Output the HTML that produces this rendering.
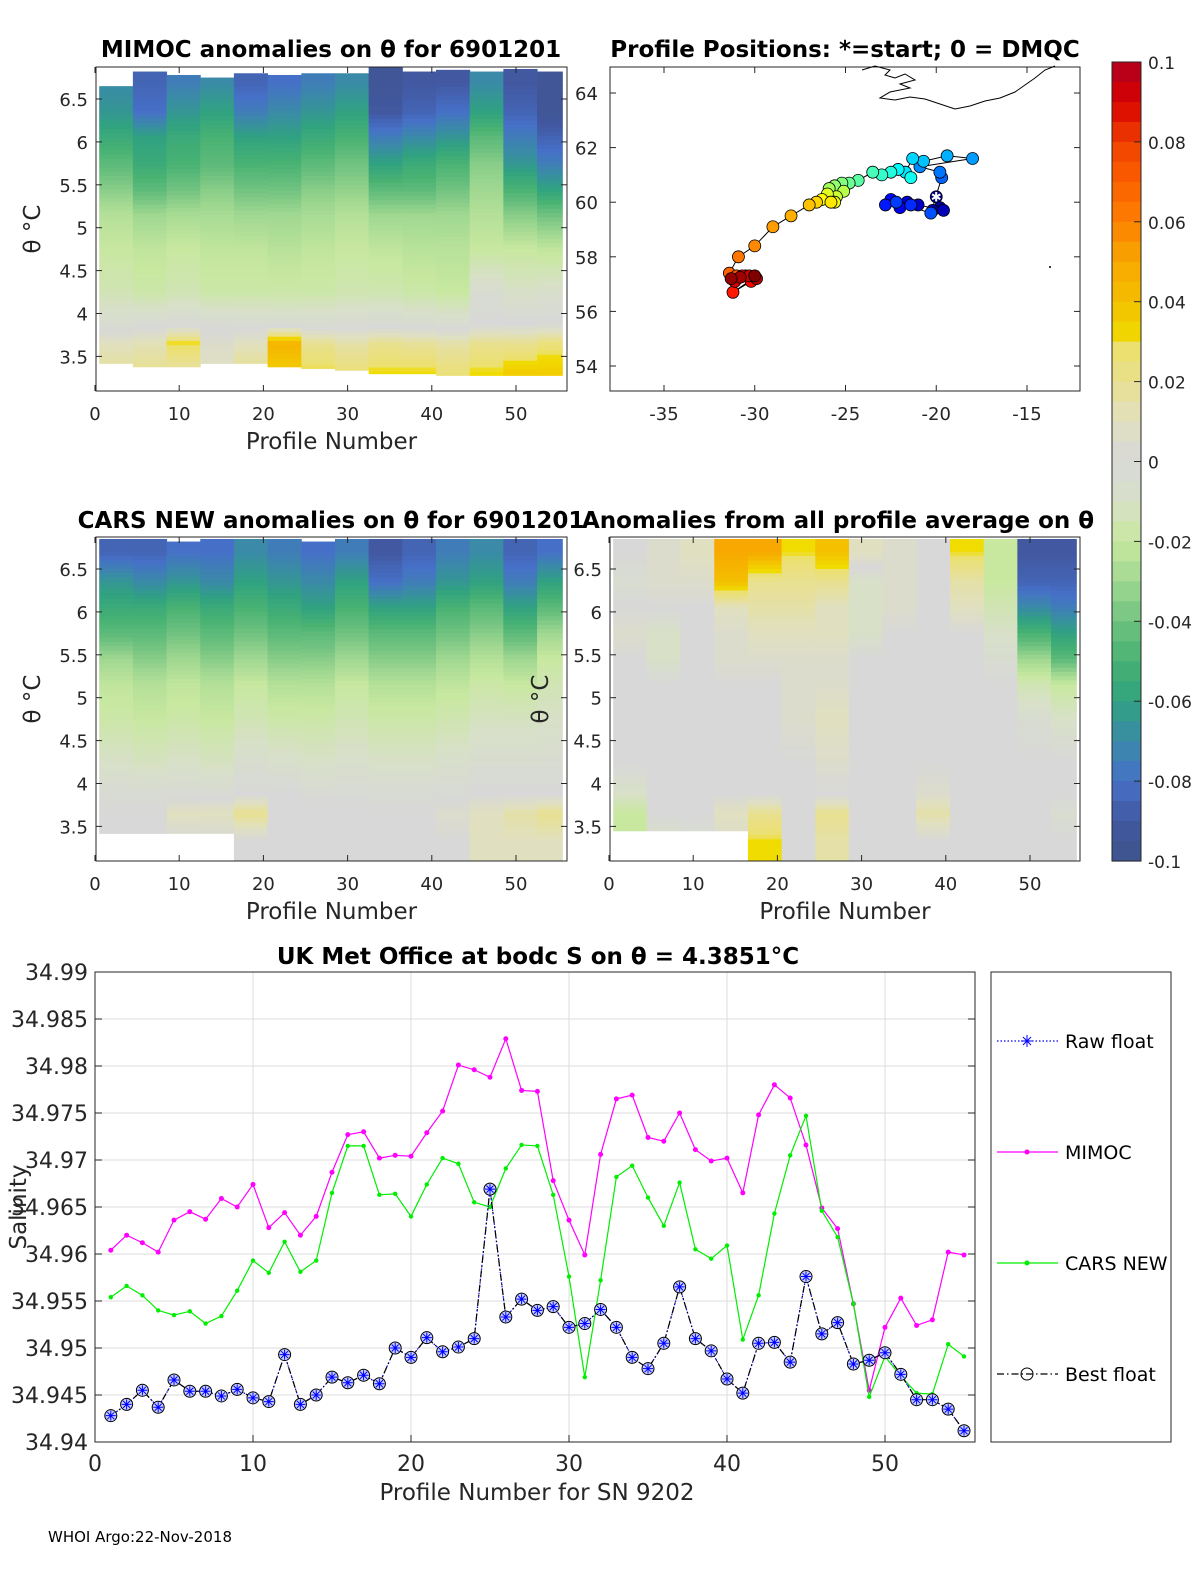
<!DOCTYPE html>
<html><head><meta charset="utf-8"><style>
html,body{margin:0;padding:0;background:#fff;}
svg{display:block;font-family:"DejaVu Sans","Liberation Sans",sans-serif;}
.t{font-size:18px;fill:#262626;}
.tb{font-size:22px;fill:#262626;}
.tl{font-size:19px;fill:#000;}
.ti{font-size:23px;font-weight:bold;fill:#000;}
.lab{font-size:23px;fill:#262626;}
</style></head><body>
<svg id="fig" width="1200" height="1575" viewBox="0 0 1200 1575" xmlns="http://www.w3.org/2000/svg"></svg>
<script>
// ---------- data ----------
const profiles = Array.from({length:55},(_,i)=>i+1);
const mimoc = [34.9604,34.9620,34.9612,34.9602,34.9636,34.9645,34.9637,34.9659,34.9650,34.9674,34.9628,34.9644,34.9620,34.9640,34.9687,34.9727,34.9730,34.9702,34.9705,34.9704,34.9729,34.9752,34.9801,34.9796,34.9788,34.9829,34.9774,34.9773,34.9678,34.9636,34.9599,34.9706,34.9765,34.9769,34.9724,34.9720,34.9750,34.9711,34.9699,34.9702,34.9665,34.9748,34.9780,34.9766,34.9716,34.9649,34.9627,34.9547,34.9455,34.9522,34.9553,34.9524,34.9530,34.9602,34.9599];
const carsNew = [34.9554,34.9566,34.9556,34.9540,34.9535,34.9539,34.9526,34.9534,34.9561,34.9593,34.9580,34.9613,34.9581,34.9593,34.9665,34.9715,34.9715,34.9663,34.9664,34.9640,34.9674,34.9702,34.9696,34.9655,34.9650,34.9691,34.9716,34.9715,34.9663,34.9576,34.9469,34.9572,34.9682,34.9694,34.9660,34.9630,34.9676,34.9605,34.9595,34.9609,34.9509,34.9556,34.9643,34.9705,34.9747,34.9646,34.9618,34.9547,34.9448,34.9491,34.9470,34.9452,34.9451,34.9504,34.9491];
const floatSal = [34.9428,34.9440,34.9455,34.9437,34.9466,34.9454,34.9454,34.9449,34.9456,34.9447,34.9443,34.9493,34.9440,34.9450,34.9469,34.9463,34.9471,34.9462,34.9500,34.9490,34.9511,34.9496,34.9501,34.9510,34.9669,34.9533,34.9552,34.9540,34.9544,34.9522,34.9526,34.9541,34.9522,34.9490,34.9478,34.9505,34.9565,34.9510,34.9497,34.9467,34.9452,34.9505,34.9506,34.9485,34.9576,34.9515,34.9527,34.9483,34.9487,34.9495,34.9472,34.9445,34.9445,34.9435,34.9412];
const salTicks = [34.94,34.945,34.95,34.955,34.96,34.965,34.97,34.975,34.98,34.985,34.99];
const salTickLabels = ["34.94","34.945","34.95","34.955","34.96","34.965","34.97","34.975","34.98","34.985","34.99"];
const profTicks = [0,10,20,30,40,50];
const thetaTicks = [3.5,4,4.5,5,5.5,6,6.5];
const thetaTickLabels = ["3.5","4","4.5","5","5.5","6","6.5"];
const bandEdges = [6.9,6.5,6.2,5.9,5.6,5.3,5.0,4.5,4.0,3.75,3.55,3.1];
const mimocField = [
[-0.07,-0.065,-0.055,-0.045,-0.035,-0.025,-0.02,-0.015,-0.005,0.01,0.018],
[-0.085,-0.08,-0.06,-0.055,-0.045,-0.03,-0.022,-0.018,-0.003,0.012,0.02],
[-0.075,-0.065,-0.055,-0.05,-0.04,-0.028,-0.02,-0.015,-0.002,0.03,0.015],
[-0.07,-0.06,-0.05,-0.045,-0.035,-0.028,-0.022,-0.018,-0.003,0.005,0.01],
[-0.085,-0.075,-0.06,-0.05,-0.04,-0.03,-0.022,-0.018,-0.004,0.01,0.02],
[-0.08,-0.07,-0.06,-0.05,-0.04,-0.03,-0.024,-0.018,-0.004,0.045,0.035],
[-0.075,-0.065,-0.055,-0.045,-0.035,-0.028,-0.022,-0.018,-0.004,0.02,0.03],
[-0.07,-0.06,-0.05,-0.04,-0.033,-0.025,-0.02,-0.016,-0.003,0.015,0.025],
[-0.095,-0.09,-0.075,-0.06,-0.045,-0.03,-0.022,-0.016,-0.003,0.02,0.03],
[-0.09,-0.085,-0.07,-0.055,-0.045,-0.03,-0.024,-0.018,-0.004,0.018,0.03],
[-0.09,-0.08,-0.065,-0.05,-0.04,-0.03,-0.024,-0.02,-0.005,0.015,0.025],
[-0.07,-0.06,-0.045,-0.035,-0.03,-0.025,-0.02,-0.005,0.0,0.02,0.03],
[-0.09,-0.085,-0.075,-0.065,-0.05,-0.035,-0.02,-0.01,0.0,0.02,0.035],
[-0.095,-0.095,-0.085,-0.075,-0.06,-0.04,-0.022,-0.008,0.0,0.025,0.035]];
const mimocTop = [6.65,6.82,6.78,6.75,6.8,6.78,6.8,6.8,6.87,6.82,6.84,6.82,6.85,6.82];
const mimocBot = [3.42,3.38,3.38,3.42,3.42,3.38,3.36,3.34,3.3,3.3,3.28,3.28,3.28,3.28];
const carsField = [
[-0.085,-0.065,-0.055,-0.045,-0.03,-0.022,-0.018,-0.01,-0.003,0.0,0.0],
[-0.085,-0.07,-0.055,-0.045,-0.035,-0.025,-0.02,-0.012,-0.003,0.0,0.0],
[-0.08,-0.065,-0.05,-0.04,-0.03,-0.022,-0.018,-0.01,-0.003,0.01,0.0],
[-0.08,-0.07,-0.055,-0.045,-0.035,-0.025,-0.02,-0.012,-0.003,0.01,0.0],
[-0.07,-0.06,-0.05,-0.04,-0.03,-0.02,-0.015,-0.006,0.0,0.02,0.0],
[-0.075,-0.065,-0.055,-0.045,-0.035,-0.025,-0.018,-0.008,0.0,0.0,0.0],
[-0.08,-0.07,-0.06,-0.045,-0.035,-0.025,-0.018,-0.01,-0.002,0.0,0.0],
[-0.075,-0.06,-0.05,-0.04,-0.03,-0.02,-0.015,-0.008,-0.002,0.0,0.0],
[-0.09,-0.08,-0.06,-0.045,-0.035,-0.025,-0.018,-0.01,-0.003,0.0,0.0],
[-0.085,-0.075,-0.06,-0.045,-0.035,-0.025,-0.018,-0.01,-0.003,0.0,0.0],
[-0.075,-0.065,-0.05,-0.04,-0.03,-0.022,-0.016,-0.008,-0.002,0.005,0.0],
[-0.07,-0.06,-0.045,-0.035,-0.025,-0.018,-0.012,-0.005,0.0,0.01,0.01],
[-0.085,-0.075,-0.06,-0.045,-0.03,-0.02,-0.012,-0.005,0.0,0.015,0.01],
[-0.08,-0.06,-0.045,-0.03,-0.02,-0.015,-0.01,-0.005,0.0,0.02,0.01]];
const carsTop = [6.85,6.85,6.82,6.85,6.85,6.85,6.82,6.85,6.85,6.85,6.85,6.85,6.85,6.85];
const carsBot = [3.42,3.42,3.42,3.42,3.1,3.1,3.1,3.1,3.1,3.1,3.1,3.1,3.1,3.1];
const avgField = [
[0.0,-0.005,0.0,0.005,0.0,0.0,0.0,0.0,-0.01,-0.02,-0.02],
[0.005,0.005,0.0,-0.01,-0.01,0.0,0.0,0.0,0.0,0.0,-0.01],
[0.01,0.005,0.0,0.0,0.0,0.0,0.0,0.0,0.0,0.0,-0.005],
[0.05,0.04,0.01,0.005,0.005,0.0,0.0,0.0,0.0,0.01,0.005],
[0.05,0.02,0.015,0.01,0.005,0.0,0.0,0.0,0.0,0.02,0.03],
[0.03,0.02,0.015,0.01,0.005,0.005,0.005,0.0,0.0,0.0,0.0],
[0.04,0.02,0.01,0.01,0.005,0.005,0.01,0.005,0.0,0.02,0.015],
[0.01,-0.01,-0.01,-0.01,0.0,0.0,0.0,0.0,0.0,0.0,0.0],
[0.005,0.005,0.005,0.0,0.0,0.0,0.0,0.0,0.0,0.0,0.0],
[0.0,0.0,0.0,0.0,0.0,0.0,0.0,0.0,0.005,0.015,0.0],
[0.03,0.015,0.01,0.0,0.0,0.0,0.0,0.0,0.0,0.0,0.0],
[-0.02,-0.02,-0.015,-0.01,-0.005,0.0,0.0,0.0,0.0,0.0,0.0],
[-0.09,-0.085,-0.07,-0.05,-0.03,-0.015,-0.005,0.0,0.0,0.0,0.0],
[-0.09,-0.085,-0.075,-0.06,-0.045,-0.02,-0.01,0.0,0.0,-0.005,0.0]];
const avgTop = [6.85,6.85,6.85,6.85,6.85,6.85,6.85,6.85,6.85,6.85,6.85,6.85,6.85,6.85];
const avgBot = [3.45,3.45,3.45,3.45,3.1,3.1,3.1,3.1,3.1,3.1,3.1,3.1,3.1,3.1];
const lons = [-20.0,-19.8,-20.2,-19.6,-21.0,-21.6,-22.0,-22.5,-22.8,-21.4,-22.2,-20.3,-19.7,-19.8,-20.9,-18.0,-19.4,-20.7,-21.3,-21.7,-22.1,-21.4,-22.5,-23.0,-23.5,-24.3,-24.8,-25.2,-25.6,-25.9,-25.1,-25.5,-26.0,-25.6,-26.3,-25.8,-26.6,-27.0,-28.0,-29.0,-30.0,-30.9,-31.4,-31.0,-30.5,-30.1,-31.2,-30.2,-30.7,-31.1,-30.3,-29.9,-30.8,-31.3,-30.0];
const lats = [60.2,59.8,59.7,59.7,59.9,60.0,59.8,60.1,59.9,59.9,60.0,59.6,60.9,61.1,61.3,61.6,61.7,61.5,61.6,61.1,61.2,60.9,61.1,61.0,61.1,60.8,60.7,60.7,60.6,60.5,60.4,60.2,60.3,60.0,60.1,60.0,60.0,59.9,59.5,59.1,58.4,58.0,57.4,57.3,57.3,57.2,56.7,57.1,57.3,57.1,57.3,57.2,57.25,57.2,57.3];
const lonTicks = [-35,-30,-25,-20,-15];
const latTicks = [54,56,58,60,62,64];
const cbTicks = [-0.1,-0.08,-0.06,-0.04,-0.02,0,0.02,0.04,0.06,0.08,0.1];
const cbTickLabels = ["-0.1","-0.08","-0.06","-0.04","-0.02","0","0.02","0.04","0.06","0.08","0.1"];

// ---------- helpers ----------
const NS="http://www.w3.org/2000/svg";
const svg=document.getElementById('fig');
function mk(tag,attrs,parent){const e=document.createElementNS(NS,tag);for(const k in attrs)e.setAttribute(k,attrs[k]);(parent||svg).appendChild(e);return e;}
function txt(s,x,y,cls,anchor,parent,extra){const e=mk('text',Object.assign({x:x,y:y,class:cls,'text-anchor':anchor||'middle'},extra||{}),parent);e.textContent=s;return e;}
const cstops=[[-0.1,[62,84,140]],[-0.09,[66,88,160]],[-0.08,[70,112,200]],[-0.07,[58,138,168]],[-0.06,[48,162,128]],[-0.05,[72,178,115]],[-0.04,[112,194,128]],[-0.03,[160,216,145]],[-0.02,[200,232,160]],[-0.01,[216,224,200]],[0,[216,216,216]],[0.01,[224,224,192]],[0.02,[232,224,144]],[0.028,[236,224,110]],[0.03,[240,220,0]],[0.04,[244,192,0]],[0.05,[248,168,0]],[0.06,[252,128,0]],[0.07,[252,96,0]],[0.08,[240,64,0]],[0.09,[216,0,0]],[0.1,[176,0,32]]];
function cmap(v){v=Math.max(-0.1,Math.min(0.1,v));for(let i=1;i<cstops.length;i++){if(v<=cstops[i][0]){const a=cstops[i-1],b=cstops[i];const t=(v-a[0])/(b[0]-a[0]);const c=a[1].map((x,j)=>Math.round(x+(b[1][j]-x)*t));return `rgb(${c[0]},${c[1]},${c[2]})`;}}return 'rgb(176,0,32)';}
function jet(t){const r=Math.max(0,Math.min(1,1.5-Math.abs(4*t-3))),g=Math.max(0,Math.min(1,1.5-Math.abs(4*t-2))),b=Math.max(0,Math.min(1,1.5-Math.abs(4*t-1)));return `rgb(${Math.round(r*255)},${Math.round(g*255)},${Math.round(b*255)})`;}
const bandCenters = bandEdges.slice(0,-1).map((e,i)=>(e+bandEdges[i+1])/2);
function sampleCol(col,th){
  if(th>=bandCenters[0]) return col[0];
  for(let i=1;i<bandCenters.length;i++){if(th>=bandCenters[i]){const t=(bandCenters[i-1]-th)/(bandCenters[i-1]-bandCenters[i]);return col[i-1]+(col[i]-col[i-1])*t;}}
  return col[col.length-1];
}

// ---------- heatmap panels ----------
function panel(name,L,T,R,B,x0Px,field,tops,bots,yLabelX){
  const g=mk('g',{});  
  const xs=n=>x0Px+n*8.42;
  const ys=th=>T+32+(6.5-th)*85.8;
  const clipId=name+'-clip';
  const cp=mk('clipPath',{id:clipId},g); mk('rect',{x:L,y:T,width:R-L,height:B-T},cp);
  const cells=mk('g',{'clip-path':`url(#${clipId})`},g);
  const step=0.05;
  field.forEach((col,gi)=>{
    const xa=xs(4*gi+0.5), xb=xs(Math.min(4*gi+4.5,55.5));
    for(let hi=tops[gi]; hi>bots[gi]+1e-6; hi-=step){
      const lo=Math.max(hi-step,bots[gi]);
      const v=sampleCol(col,(hi+lo)/2);
      const r=mk('rect',{x:xa,y:ys(hi),width:xb-xa+0.5,height:ys(lo)-ys(hi)+0.6,fill:cmap(v)},cells);
      
      
    }
  });
  mk('rect',{x:L,y:T,width:R-L,height:B-T,fill:'none',stroke:'#262626','stroke-width':1},g);
  thetaTicks.forEach((t,i)=>{const y=ys(t);mk('line',{x1:L,x2:L+6,y1:y,y2:y,stroke:'#262626'},g);mk('line',{x1:R,x2:R-6,y1:y,y2:y,stroke:'#262626'},g);txt(thetaTickLabels[i],L-8,y+7,'t','end',g);});
  profTicks.forEach(p=>{const x=xs(p);mk('line',{x1:x,x2:x,y1:B,y2:B-6,stroke:'#262626'},g);mk('line',{x1:x,x2:x,y1:T,y2:T+6,stroke:'#262626'},g);txt(String(p),x,B+29,'t','middle',g);});
  txt('Profile Number',(L+R)/2,B+58,'lab','middle',g);
  const yl=txt('θ °C',yLabelX,(T+B)/2,'lab','middle',g,{transform:`rotate(-90 ${yLabelX} ${(T+B)/2})`});
   
}
panel('mimoc-anomaly-panel',96,67,567,391,95,mimocField,mimocTop,mimocBot,40);
panel('cars-anomaly-panel',96,537,567,861,95,carsField,carsTop,carsBot,40);
panel('average-anomaly-panel',610,537,1080,861,609,avgField,avgTop,avgBot,548);

// ---------- titles ----------
[['MIMOC anomalies on θ  for 6901201',331,57,'mimoc-title'],['Profile Positions: *=start; 0 = DMQC',845,57,'positions-title'],['CARS NEW anomalies on θ for 6901201',331,528,'cars-title'],['Anomalies from all profile average on θ',838,528,'average-title']].forEach(a=>{const e=txt(a[0],a[1],a[2],'ti','middle');});

// ---------- map ----------
(function(){
  const g=mk('g',{});  
  const L=610,T=67,R=1080,B=391;
  const xs=lo=>664+(lo+35)*18.15, ys=la=>366-(la-54)*27.3;
  mk('rect',{x:L,y:T,width:R-L,height:B-T,fill:'#fff',stroke:'#262626'},g);
  lonTicks.forEach(l=>{const x=xs(l);mk('line',{x1:x,x2:x,y1:B,y2:B-6,stroke:'#262626'},g);mk('line',{x1:x,x2:x,y1:T,y2:T+6,stroke:'#262626'},g);txt(String(l),x,B+29,'t','middle',g);});
  latTicks.forEach(l=>{const y=ys(l);mk('line',{x1:L,x2:L+6,y1:y,y2:y,stroke:'#262626'},g);mk('line',{x1:R,x2:R-6,y1:y,y2:y,stroke:'#262626'},g);txt(String(l),575,y+7,'t','start',g);});
  const coast=mk('path',{d:'M862,70 L875,66 L890,70 L885,75 L895,78 L905,74 L915,80 L900,84 L910,88 L890,92 L880,98 L895,100 L910,97 L925,99 L940,104 L955,109 L970,106 L985,101 L1000,98 L1015,92 L1025,85 L1035,78 L1045,70 L1055,66',fill:'none',stroke:'#000','stroke-width':1},g);
   
  mk('circle',{cx:1050,cy:267,r:1,fill:'#000'},g);
  const pts=lons.map((lo,i)=>[xs(lo),ys(lats[i])]);
  mk('polyline',{points:pts.map(p=>p.join(',')).join(' '),fill:'none',stroke:'#000','stroke-width':1},g);
  pts.forEach((p,i)=>{const c=mk('circle',{cx:p[0],cy:p[1],r:6,fill:jet(i/(pts.length-1)),stroke:'#000','stroke-width':0.8},g);});
  const s=txt('✱',pts[0][0],pts[0][1]+5,'t','middle',g); s.setAttribute('style','font-size:13px;fill:#fff');
   
})();

// ---------- colorbar ----------
(function(){
  const g=mk('g',{});  
  const L=1112,T=62,W=29,H=799;
  for(let i=0;i<40;i++){const v=0.1-(i+0.5)*0.005;mk('rect',{x:L,y:T+i*H/40,width:W,height:H/40+0.6,fill:cmap(v)},g);}
  mk('rect',{x:L,y:T,width:W,height:H,fill:'none',stroke:'#262626'},g);
  cbTicks.forEach((v,i)=>{const y=T+(0.1-v)/0.2*H;mk('line',{x1:L+W-7,x2:L+W,y1:y,y2:y,stroke:'#262626'},g);txt(cbTickLabels[i],1148,y+7,'t','start',g,{style:'font-size:17px'});});
})();

// ---------- salinity line chart ----------
(function(){
  const g=mk('g',{});  
  const L=95,T=972,R=975,B=1442;
  const xs=n=>L+n*15.8, ys=v=>T+(34.99-v)*9400;
  mk('rect',{x:L,y:T,width:R-L,height:B-T,fill:'#fff'},g);
  salTicks.forEach((v,i)=>{const y=ys(v);mk('line',{x1:L,x2:R,y1:y,y2:y,stroke:'#dedede'},g);mk('line',{x1:L,x2:L+7,y1:y,y2:y,stroke:'#262626'},g);mk('line',{x1:R,x2:R-7,y1:y,y2:y,stroke:'#262626'},g);const e=txt(salTickLabels[i],88,y+8,'tb','end',g);});
  profTicks.forEach(p=>{const x=xs(p);mk('line',{x1:x,x2:x,y1:T,y2:B,stroke:'#dedede'},g);mk('line',{x1:x,x2:x,y1:B,y2:B-7,stroke:'#262626'},g);txt(String(p),x,B+29,'tb','middle',g);});
  mk('rect',{x:L,y:T,width:R-L,height:B-T,fill:'none',stroke:'#262626'},g);
  function series(vals,color,dash,name){const l=mk('polyline',{points:vals.map((v,i)=>xs(profiles[i])+','+ys(v)).join(' '),fill:'none',stroke:color,'stroke-width':1.2,'stroke-dasharray':dash||'none'},g);}
  series(mimoc,'#ff00ff',null,'mimoc-line');
  mimoc.forEach((v,i)=>{const c=mk('circle',{cx:xs(profiles[i]),cy:ys(v),r:2.5,fill:'#ff00ff'},g);});
  series(carsNew,'#00ee00',null,'cars-new-line');
  carsNew.forEach((v,i)=>{const c=mk('circle',{cx:xs(profiles[i]),cy:ys(v),r:2.2,fill:'#00ee00'},g);});
  series(floatSal,'#0000ff','1.5,2','raw-float-line');
  series(floatSal,'#000','7,3,1.5,3','best-float-line');
  floatSal.forEach((v,i)=>{const x=xs(profiles[i]),y=ys(v);const c=mk('circle',{cx:x,cy:y,r:6,fill:'#c8d0ff',stroke:'#000','stroke-width':1},g);
    const p=mk('path',{d:`M${x-5},${y}H${x+5}M${x},${y-5}V${y+5}M${x-3.5},${y-3.5}L${x+3.5},${y+3.5}M${x-3.5},${y+3.5}L${x+3.5},${y-3.5}`,stroke:'#0000ff','stroke-width':1},g);});
  const t=txt('UK Met Office at bodc S on θ = 4.3851°C',538,964,'ti','middle');  
  const xl=txt('Profile Number for SN 9202',537,1500,'lab','middle');  
  const yl=txt('Salinity',26,1207,'lab','middle',null,{transform:'rotate(-90 26 1207)'});  
  const lg=mk('g',{});  
  mk('rect',{x:991,y:972,width:180,height:470,fill:'#fff',stroke:'#262626'},lg);
  const ent=[['Raw float',1041,'#0000ff','1.5,2'],['MIMOC',1152,'#ff00ff',null],['CARS NEW',1263,'#00ee00',null],['Best float',1374,'#000','7,3,1.5,3']];
  ent.forEach((e,i)=>{const eg=mk('g',{},lg);
    mk('line',{x1:997,x2:1058,y1:e[1],y2:e[1],stroke:e[2],'stroke-width':1.2,'stroke-dasharray':e[3]||'none'},eg);
    if(i===0){mk('path',{d:`M1021,${e[1]}h12M1027,${e[1]-6}v12M1023,${e[1]-4}l8,8M1023,${e[1]+4}l8,-8`,stroke:'#0000ff'},eg);}
    else if(i===3){mk('circle',{cx:1027,cy:e[1],r:6,fill:'none',stroke:'#000'},eg);}
    else mk('circle',{cx:1027,cy:e[1],r:2.5,fill:e[2]},eg);
    txt(e[0],1065,e[1]+7,'tl','start',eg);});
})();
const ft=txt('WHOI Argo:22-Nov-2018',48,1542,'t','start',null,{style:'font-size:15px;fill:#000'});
 
</script>
</body></html>
